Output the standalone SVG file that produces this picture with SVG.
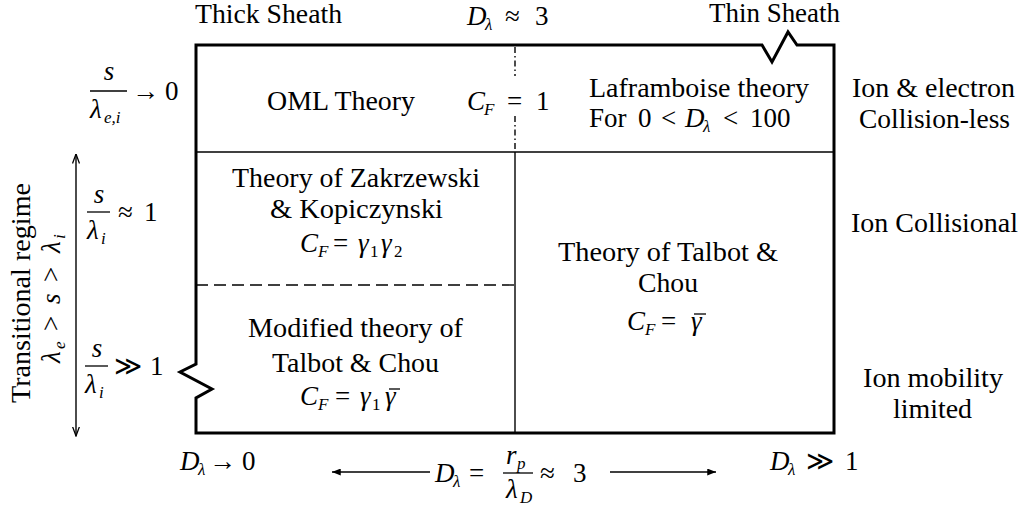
<svg xmlns="http://www.w3.org/2000/svg" width="1024" height="511" viewBox="0 0 1024 511" font-family="'Liberation Serif', serif">
<style>
.t{font-family:'Liberation Serif', serif;font-size:26.5px;fill:#000}
.m{font-family:'Liberation Serif', serif;font-size:27px;fill:#000}
.i{font-style:italic}
.s{font-size:17px}
.c{text-anchor:middle}
.frame{fill:none;stroke:#000;stroke-width:3;stroke-linejoin:miter}
.thin{stroke:#000;stroke-width:1.4;fill:none}
.bar{stroke:#000;stroke-width:1.3}
</style>
<defs>
<marker id="ah" viewBox="0 0 10 8" refX="10" refY="4" markerWidth="9" markerHeight="7" markerUnits="userSpaceOnUse" orient="auto-start-reverse"><path d="M0,0 L10,4 L0,8 z" fill="#000"/></marker>
<marker id="av" viewBox="0 0 10 8" refX="9.5" refY="4" markerWidth="10" markerHeight="8" markerUnits="userSpaceOnUse" orient="auto-start-reverse"><path d="M0,0.5 L9.5,4 L0,7.5" fill="none" stroke="#000" stroke-width="1.3"/></marker>
</defs>
<rect width="1024" height="511" fill="#fff"/>

<g id="frame">
<path class="frame" d="M196,45 L762,45 L772,62 L788,32 L797,45 L834,45 L834,433 L196,433 L196,398 L212,389 L180,372 L196,364 Z"/>
</g>

<g id="connectors">
<line class="thin" x1="196" y1="152" x2="834" y2="152"/>
<line class="thin" x1="515" y1="152" x2="515" y2="433"/>
<line class="thin" x1="196" y1="285" x2="515" y2="285" stroke-dasharray="12,6"/>
<line class="thin" x1="515" y1="47" x2="515" y2="76" stroke-dasharray="6,3,1.5,3"/>
<line class="thin" x1="515" y1="116" x2="515" y2="152" stroke-dasharray="6,3,1.5,3"/>
<line class="thin" x1="76" y1="154" x2="76" y2="436" marker-start="url(#av)" marker-end="url(#av)"/>
<line class="thin" x1="430" y1="472" x2="332" y2="472" marker-end="url(#ah)"/>
<line class="thin" x1="610" y1="472" x2="716" y2="472" marker-end="url(#ah)"/>
</g>

<g id="label-thick">
<text class="t c" x="268.5" y="23" textLength="147" lengthAdjust="spacingAndGlyphs">Thick Sheath</text>
</g>
<g id="label-thin">
<text class="t c" x="774.5" y="22" textLength="131" lengthAdjust="spacingAndGlyphs">Thin Sheath</text>
</g>
<g id="label-dtop">
<text class="m" y="25"><tspan class="i" x="467">D</tspan><tspan class="i s" x="485" dy="5">λ</tspan><tspan x="505" dy="-5">≈</tspan><tspan x="535">3</tspan></text>
</g>

<g id="cell-oml">
<text class="t c" x="341" y="110" textLength="148" lengthAdjust="spacingAndGlyphs">OML Theory</text>
<text class="m" y="110"><tspan class="i" x="467">C</tspan><tspan class="i s" x="484" dy="5">F</tspan><tspan x="507" dy="-5">=</tspan><tspan x="536">1</tspan></text>
</g>

<g id="cell-laframboise">
<text class="t c" x="699" y="97" textLength="220" lengthAdjust="spacingAndGlyphs">Laframboise theory</text>
<text class="m" y="127"><tspan x="589">For</tspan><tspan x="638">0</tspan><tspan x="661">&lt;</tspan><tspan class="i" x="685">D</tspan><tspan class="i s" x="703" dy="5">λ</tspan><tspan x="723" dy="-5">&lt;</tspan><tspan x="750">100</tspan></text>
</g>

<g id="cell-zakrzewski">
<text class="t c" x="356" y="187" textLength="248" lengthAdjust="spacingAndGlyphs">Theory of Zakrzewski</text>
<text class="t c" x="356.5" y="218" textLength="173" lengthAdjust="spacingAndGlyphs">&amp; Kopiczynski</text>
<text class="m" y="252"><tspan class="i" x="300">C</tspan><tspan class="i s" x="318" dy="5">F</tspan><tspan x="333" dy="-5">=</tspan><tspan class="i" x="358">γ</tspan><tspan class="s" x="370" dy="5">1</tspan><tspan class="i" x="381" dy="-5">γ</tspan><tspan class="s" x="394" dy="5">2</tspan></text>
</g>

<g id="cell-talbot">
<text class="t c" x="668" y="261" textLength="220" lengthAdjust="spacingAndGlyphs">Theory of Talbot &amp;</text>
<text class="t c" x="668" y="292" textLength="60" lengthAdjust="spacingAndGlyphs">Chou</text>
<text class="m" y="330"><tspan class="i" x="627">C</tspan><tspan class="i s" x="645" dy="5">F</tspan><tspan x="661" dy="-5">=</tspan><tspan class="i" x="691">γ</tspan></text>
<line class="bar" x1="694" y1="314" x2="706" y2="314"/>
</g>

<g id="cell-modified">
<text class="t c" x="355.5" y="337" textLength="215" lengthAdjust="spacingAndGlyphs">Modified theory of</text>
<text class="t c" x="355.5" y="372" textLength="167" lengthAdjust="spacingAndGlyphs">Talbot &amp; Chou</text>
<text class="m" y="405"><tspan class="i" x="300">C</tspan><tspan class="i s" x="318" dy="5">F</tspan><tspan x="335" dy="-5">=</tspan><tspan class="i" x="360">γ</tspan><tspan class="s" x="372" dy="5">1</tspan><tspan class="i" x="385" dy="-5">γ</tspan></text>
<line class="bar" x1="389" y1="389" x2="400" y2="389"/>
</g>

<g id="label-right-top">
<text class="t c" x="933.5" y="97" textLength="163" lengthAdjust="spacingAndGlyphs">Ion &amp; electron</text>
<text class="t c" x="934.5" y="128" textLength="151" lengthAdjust="spacingAndGlyphs">Collision-less</text>
</g>
<g id="label-right-mid">
<text class="t c" x="934.5" y="232" textLength="167" lengthAdjust="spacingAndGlyphs">Ion Collisional</text>
</g>
<g id="label-right-bottom">
<text class="t c" x="933" y="387" textLength="140" lengthAdjust="spacingAndGlyphs">Ion mobility</text>
<text class="t c" x="932.5" y="418" textLength="79" lengthAdjust="spacingAndGlyphs">limited</text>
</g>

<g id="label-left-1">
<text class="m i c" x="109" y="80">s</text>
<line class="bar" x1="90" y1="91" x2="127" y2="91"/>
<text class="m" y="118"><tspan class="i" x="90">λ</tspan><tspan class="i s" x="104" dy="5">e,i</tspan></text>
<text class="m" y="100"><tspan x="132">→</tspan><tspan x="165">0</tspan></text>
</g>
<g id="label-left-2">
<text class="m i c" x="99" y="203">s</text>
<line class="bar" x1="87" y1="212" x2="110" y2="212"/>
<text class="m" y="239"><tspan class="i" x="87">λ</tspan><tspan class="i s" x="101" dy="5">i</tspan></text>
<text class="m" y="221"><tspan x="118">≈</tspan><tspan x="144">1</tspan></text>
</g>
<g id="label-left-3">
<text class="m i c" x="97" y="357">s</text>
<line class="bar" x1="85" y1="366" x2="108" y2="366"/>
<text class="m" y="393"><tspan class="i" x="85">λ</tspan><tspan class="i s" x="99" dy="5">i</tspan></text>
<text class="m" y="375"><tspan x="114">≫</tspan><tspan x="150">1</tspan></text>
</g>
<g id="label-transitional">
<text class="t c" transform="translate(30,293) rotate(-90)" x="0" y="0" textLength="220" lengthAdjust="spacingAndGlyphs">Transitional regime</text>
<text class="m" transform="translate(60,298) rotate(-90)" y="0"><tspan class="i" x="-65">λ</tspan><tspan class="i s" x="-51" dy="5">e</tspan><tspan x="-33" dy="-5">&gt;</tspan><tspan class="i" x="-6">s</tspan><tspan x="16">&gt;</tspan><tspan class="i" x="45">λ</tspan><tspan class="i s" x="59" dy="5">i</tspan></text>
</g>

<g id="label-bottom-left">
<text class="m" y="470"><tspan class="i" x="180">D</tspan><tspan class="i s" x="198" dy="5">λ</tspan><tspan x="209" dy="-5">→</tspan><tspan x="242">0</tspan></text>
</g>
<g id="label-bottom-mid">
<text class="m" y="482"><tspan class="i" x="435">D</tspan><tspan class="i s" x="453" dy="5">λ</tspan><tspan x="469" dy="-5">=</tspan></text>
<text class="m" y="464"><tspan class="i" x="506">r</tspan><tspan class="i s" x="517" dy="5">p</tspan></text>
<line class="bar" x1="503" y1="473" x2="533" y2="473"/>
<text class="m" y="498"><tspan class="i" x="506">λ</tspan><tspan class="i s" x="520" dy="5">D</tspan></text>
<text class="m" y="482"><tspan x="540">≈</tspan><tspan x="573">3</tspan></text>
</g>
<g id="label-bottom-right">
<text class="m" y="470"><tspan class="i" x="770">D</tspan><tspan class="i s" x="788" dy="5">λ</tspan><tspan x="806" dy="-5">≫</tspan><tspan x="845">1</tspan></text>
</g>
</svg>
